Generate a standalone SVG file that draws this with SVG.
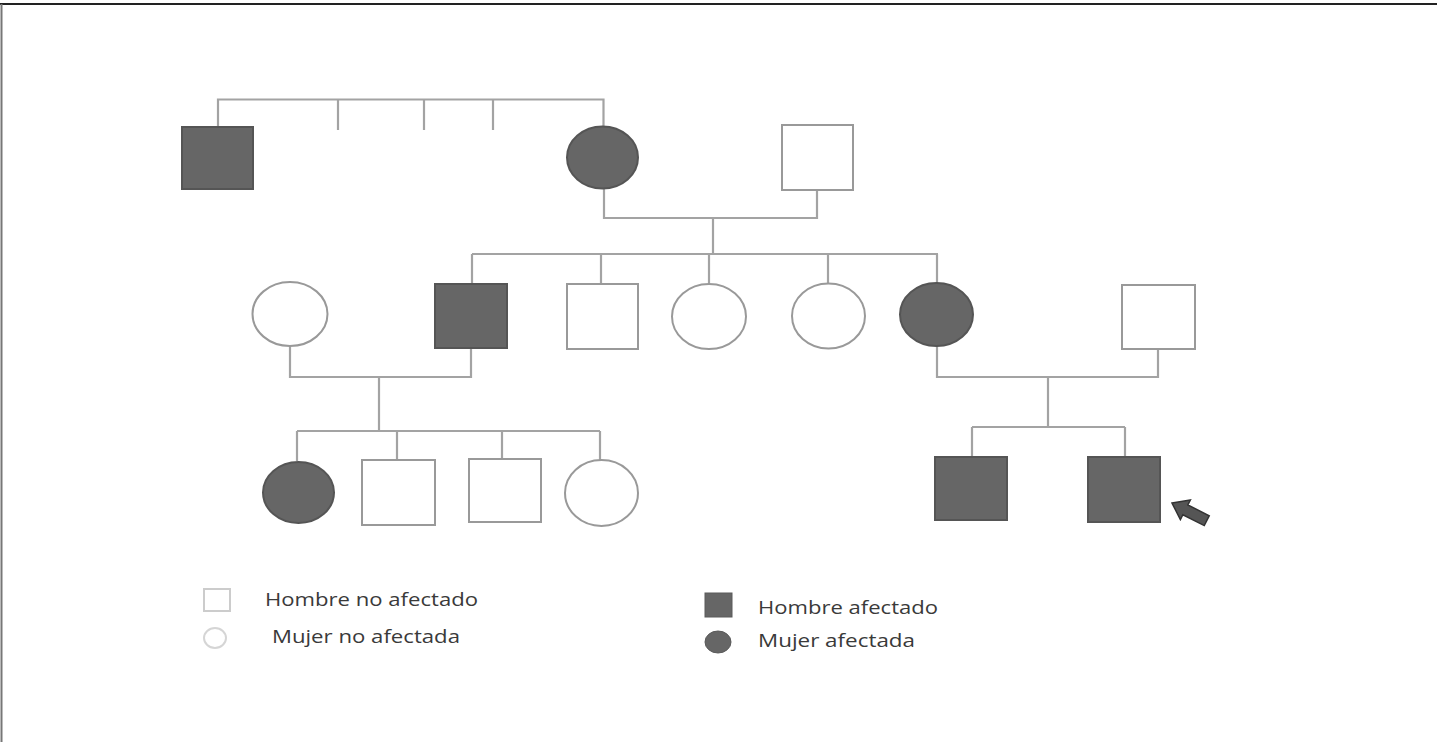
<svg xmlns="http://www.w3.org/2000/svg" width="1437" height="742" viewBox="0 0 1437 742">
<style>
.aff{fill:#666;stroke:#555;stroke-width:2}
.un{fill:#fff;stroke:#999;stroke-width:2}
.ln{fill:none;stroke:#a3a3a3;stroke-width:2.2}
.lg{font-family:"Open Sans","Liberation Sans",sans-serif;font-size:18px;fill:#3a3a3a}
</style>
<rect width="1437" height="742" fill="#fff"/>
<line x1="0" y1="4" x2="1437" y2="4" stroke="#222" stroke-width="2"/>
<line x1="1.5" y1="4" x2="1.5" y2="742" stroke="#777" stroke-width="2"/>

<g id="connectors">
<path class="ln" d="M218,127 V99.5 H603.5 V126 M338,99.5 V130 M424,99.5 V130 M493,99.5 V130"/>
<path class="ln" d="M604,188 V218 H817 V190 M713,218 V254 M472,254 H938 M472,254 V284 M601,254 V284 M709,254 V284 M828,254 V284 M937,254 V283"/>
<path class="ln" d="M290,346 V377 H471 V348 M379,377 V431 M297,431 H600 M297,431 V461 M397,431 V460 M502,431 V459 M600,431 V460"/>
<path class="ln" d="M937,346 V377 H1158 V349 M1048,377 V427 M972,427 H1125 M972,427 V457 M1125,427 V457"/>
</g>

<g id="n1"><rect class="aff" x="182" y="127" width="71" height="62"/></g>
<g id="n2"><ellipse class="aff" cx="602.5" cy="157.5" rx="35.5" ry="31"/></g>
<g id="n3"><rect class="un" x="782" y="125" width="71" height="65"/></g>

<g id="n4"><ellipse class="un" cx="290" cy="314" rx="37.5" ry="32"/></g>
<g id="n5"><rect class="aff" x="435" y="284" width="72" height="64"/></g>
<g id="n6"><rect class="un" x="567" y="284" width="71" height="65"/></g>
<g id="n7"><ellipse class="un" cx="709" cy="316.5" rx="37" ry="32.5"/></g>
<g id="n8"><ellipse class="un" cx="828.5" cy="316" rx="36.5" ry="32.5"/></g>
<g id="n9"><ellipse class="aff" cx="936.5" cy="314.5" rx="36.5" ry="31.5"/></g>
<g id="n10"><rect class="un" x="1122" y="285" width="73" height="64"/></g>

<g id="n11"><ellipse class="aff" cx="298.5" cy="492.5" rx="35.5" ry="30.5"/></g>
<g id="n12"><rect class="un" x="362" y="460" width="73" height="65"/></g>
<g id="n13"><rect class="un" x="469" y="459" width="72" height="63"/></g>
<g id="n14"><ellipse class="un" cx="601.5" cy="493" rx="36.5" ry="33"/></g>
<g id="n15"><rect class="aff" x="935" y="457" width="72" height="63"/></g>
<g id="n16"><rect class="aff" x="1088" y="457" width="72" height="65"/></g>

<g id="proband-arrow">
<polygon points="0,0 15,-11 15,-5.5 39,-5.5 39,5.5 15,5.5 15,11" fill="#555" stroke="#333" stroke-width="1.5" transform="translate(1172,503) rotate(27)"/>
</g>

<g id="legend">
<rect x="204" y="589" width="26" height="22" fill="#fff" stroke="#ccc" stroke-width="2"/>
<text class="lg" x="265" y="606" textLength="213" lengthAdjust="spacingAndGlyphs">Hombre no afectado</text>
<ellipse cx="215" cy="638" rx="11" ry="10" fill="#fff" stroke="#d5d5d5" stroke-width="2"/>
<text class="lg" x="272" y="643" textLength="188" lengthAdjust="spacingAndGlyphs">Mujer no afectada</text>
<rect x="705" y="593" width="27" height="24" fill="#666" stroke="#5a5a5a" stroke-width="1"/>
<text class="lg" x="758" y="614" textLength="180" lengthAdjust="spacingAndGlyphs">Hombre afectado</text>
<ellipse cx="718" cy="642" rx="13" ry="11" fill="#666" stroke="#5a5a5a" stroke-width="1"/>
<text class="lg" x="758" y="647" textLength="157" lengthAdjust="spacingAndGlyphs">Mujer afectada</text>
</g>
</svg>
